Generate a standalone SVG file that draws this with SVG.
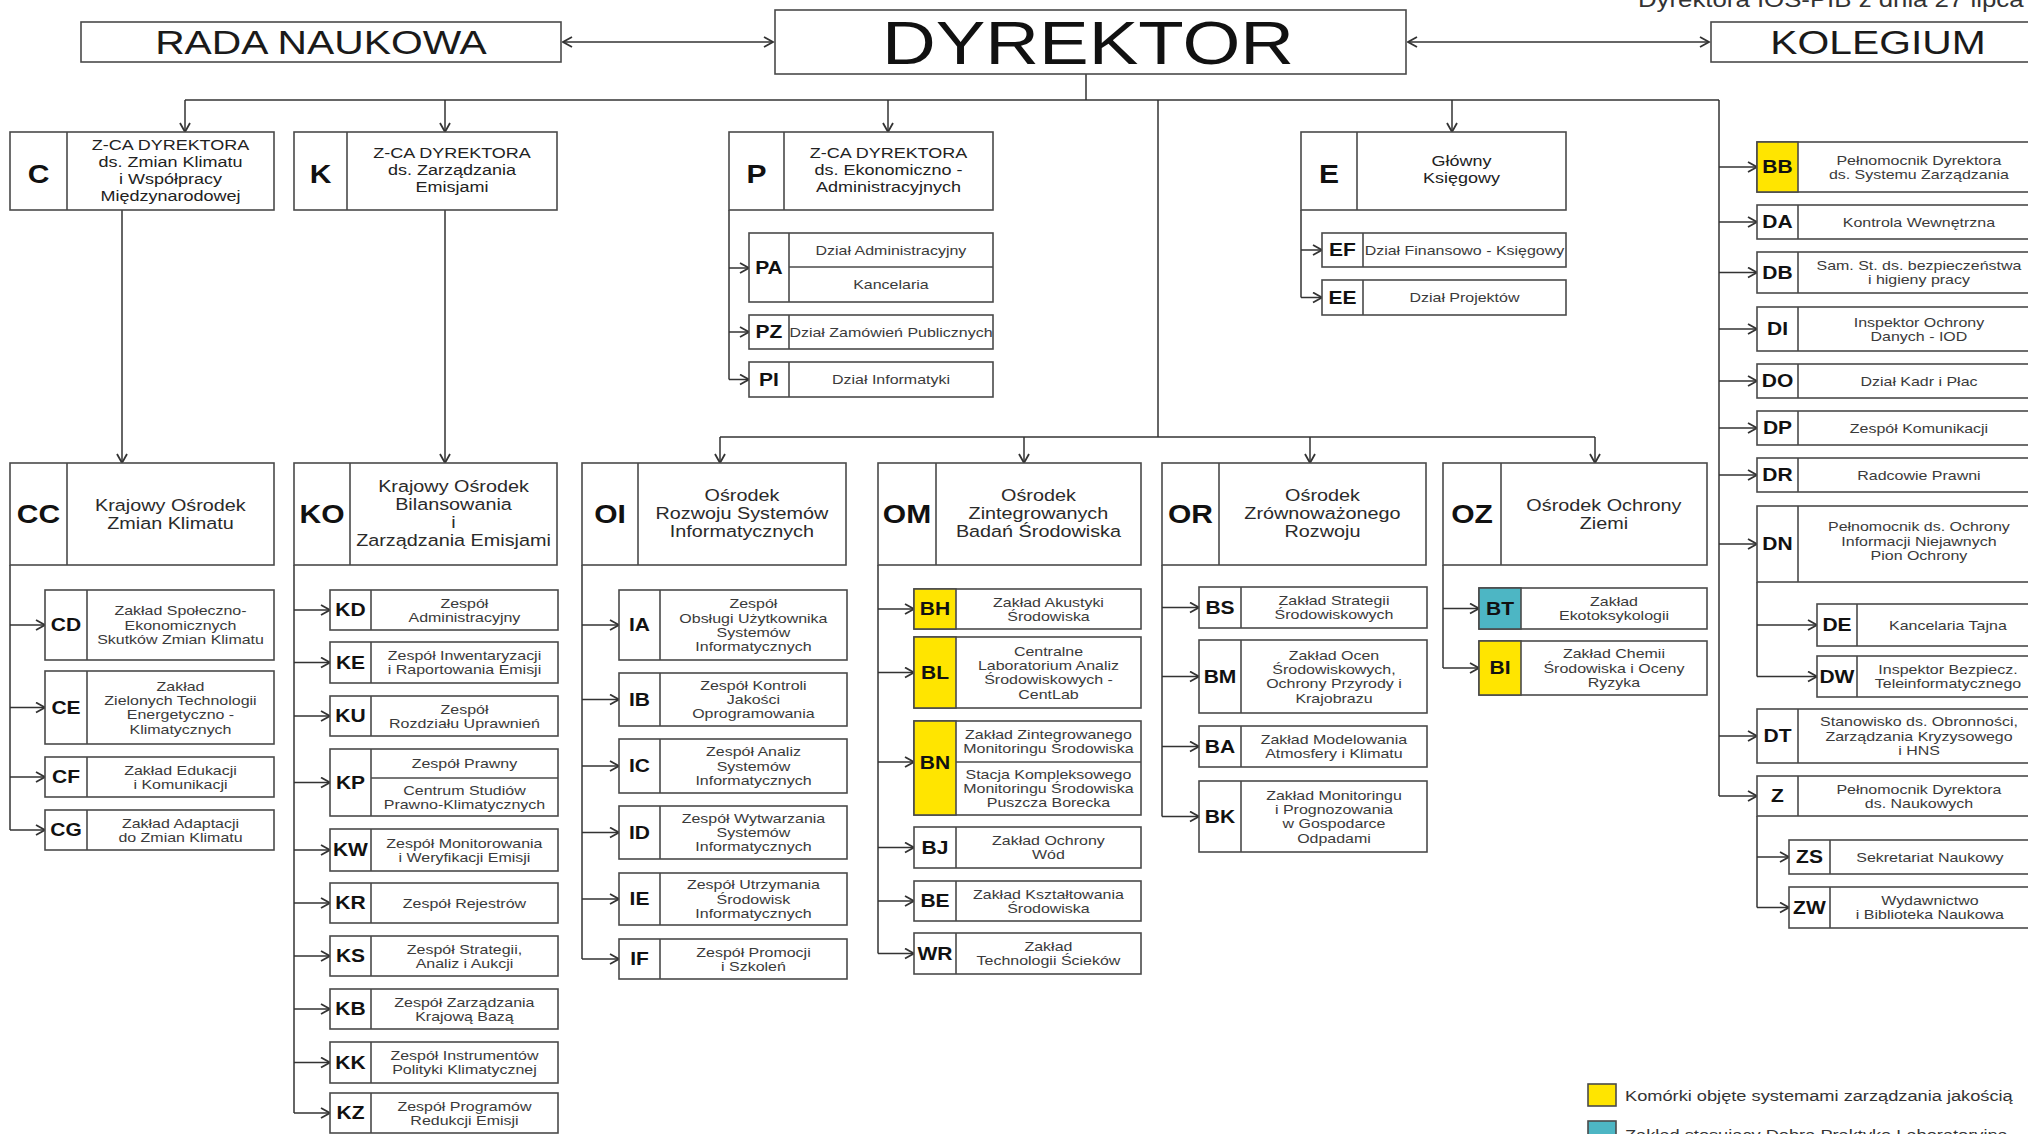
<svg xmlns="http://www.w3.org/2000/svg" width="2028" height="1134" viewBox="0 0 2028 1134">
<style>
.box{fill:#fff;stroke:#4a4a4a;stroke-width:1.6}
.dv{stroke:#4a4a4a;stroke-width:1.6}
.yel{fill:#FFE500;stroke:#4a4a4a;stroke-width:1.6}
.teal{fill:#4DB6C4;stroke:#4a4a4a;stroke-width:1.6}
.t{font-family:"Liberation Sans",Arial,sans-serif;text-anchor:middle;fill:#333;transform-box:fill-box;transform-origin:center;transform:scaleX(1.2)}
.tl{text-anchor:start;transform-origin:left center}
.huge{font-size:62px;fill:#111}
.big{font-size:34px;fill:#1a1a1a}
.h1{font-size:15px;fill:#222}
.h2{font-size:16.5px;fill:#2a2a2a}
.c{font-size:13.3px;fill:#3a3a3a}
.cd{font-weight:bold;fill:#111}
.cl{font-size:25px}
.cs{font-size:17.5px}
.lg{font-size:15.2px;fill:#333}
.note{font-size:21.5px;fill:#333}
.conn{fill:none;stroke:#333;stroke-width:1.5}
</style>
<defs>
<marker id="ah" viewBox="0 0 12 12" refX="10.5" refY="6" markerWidth="12" markerHeight="12" markerUnits="userSpaceOnUse" orient="auto-start-reverse"><path d="M1.5,1 L10.5,6 L1.5,11" fill="none" stroke="#333" stroke-width="1.8"/></marker>
</defs>
<rect width="2028" height="1134" fill="#fff"/>
<text class="t tl note" x="1638" y="7">Dyrektora IOŚ-PIB z dnia 27 lipca</text>

<g id="connectors" class="conn">
<path d="M563,42 H773" marker-start="url(#ah)" marker-end="url(#ah)"/>
<path d="M1408,42 H1709" marker-start="url(#ah)" marker-end="url(#ah)"/>
<path d="M1086,74 V100"/>
<path d="M185,100 H1719"/>
<path d="M185,100 V132" marker-end="url(#ah)"/>
<path d="M445,100 V132" marker-end="url(#ah)"/>
<path d="M888,100 V132" marker-end="url(#ah)"/>
<path d="M1452,100 V132" marker-end="url(#ah)"/>
<path d="M1158,100 V437"/>
<path d="M720,437 H1595"/>
<path d="M720,437 V463" marker-end="url(#ah)"/>
<path d="M1024,437 V463" marker-end="url(#ah)"/>
<path d="M1310,437 V463" marker-end="url(#ah)"/>
<path d="M1595,437 V463" marker-end="url(#ah)"/>
<path d="M122,210 V463" marker-end="url(#ah)"/>
<path d="M445,210 V463" marker-end="url(#ah)"/>
<path d="M729,210 V379.5"/>
<path d="M729,268 H749" marker-end="url(#ah)"/>
<path d="M729,332 H749" marker-end="url(#ah)"/>
<path d="M729,379.5 H749" marker-end="url(#ah)"/>
<path d="M1301,210 V297.5"/>
<path d="M1301,250 H1322" marker-end="url(#ah)"/>
<path d="M1301,297.5 H1322" marker-end="url(#ah)"/>
<path d="M10,565 V830"/>
<path d="M10,625 H45" marker-end="url(#ah)"/>
<path d="M10,707.5 H45" marker-end="url(#ah)"/>
<path d="M10,777 H45" marker-end="url(#ah)"/>
<path d="M10,830 H45" marker-end="url(#ah)"/>
<path d="M294,565 V1113"/>
<path d="M294,610 H330" marker-end="url(#ah)"/>
<path d="M294,662.5 H330" marker-end="url(#ah)"/>
<path d="M294,716 H330" marker-end="url(#ah)"/>
<path d="M294,782.5 H330" marker-end="url(#ah)"/>
<path d="M294,850 H330" marker-end="url(#ah)"/>
<path d="M294,903 H330" marker-end="url(#ah)"/>
<path d="M294,956 H330" marker-end="url(#ah)"/>
<path d="M294,1009 H330" marker-end="url(#ah)"/>
<path d="M294,1062.5 H330" marker-end="url(#ah)"/>
<path d="M294,1113 H330" marker-end="url(#ah)"/>
<path d="M582,565 V959"/>
<path d="M582,625 H619" marker-end="url(#ah)"/>
<path d="M582,699.5 H619" marker-end="url(#ah)"/>
<path d="M582,766 H619" marker-end="url(#ah)"/>
<path d="M582,832.5 H619" marker-end="url(#ah)"/>
<path d="M582,899 H619" marker-end="url(#ah)"/>
<path d="M582,959 H619" marker-end="url(#ah)"/>
<path d="M878,565 V953.5"/>
<path d="M878,609 H914" marker-end="url(#ah)"/>
<path d="M878,672.5 H914" marker-end="url(#ah)"/>
<path d="M878,762 H914" marker-end="url(#ah)"/>
<path d="M878,847.5 H914" marker-end="url(#ah)"/>
<path d="M878,901 H914" marker-end="url(#ah)"/>
<path d="M878,953.5 H914" marker-end="url(#ah)"/>
<path d="M1162,565 V816.5"/>
<path d="M1162,607.5 H1199" marker-end="url(#ah)"/>
<path d="M1162,676.5 H1199" marker-end="url(#ah)"/>
<path d="M1162,746.5 H1199" marker-end="url(#ah)"/>
<path d="M1162,816.5 H1199" marker-end="url(#ah)"/>
<path d="M1443,565 V668"/>
<path d="M1443,608.5 H1479" marker-end="url(#ah)"/>
<path d="M1443,668 H1479" marker-end="url(#ah)"/>
<path d="M1719,100 V796"/>
<path d="M1719,167 H1757" marker-end="url(#ah)"/>
<path d="M1719,222 H1757" marker-end="url(#ah)"/>
<path d="M1719,272.5 H1757" marker-end="url(#ah)"/>
<path d="M1719,329 H1757" marker-end="url(#ah)"/>
<path d="M1719,381 H1757" marker-end="url(#ah)"/>
<path d="M1719,428 H1757" marker-end="url(#ah)"/>
<path d="M1719,475 H1757" marker-end="url(#ah)"/>
<path d="M1719,544 H1757" marker-end="url(#ah)"/>
<path d="M1719,736 H1757" marker-end="url(#ah)"/>
<path d="M1719,796 H1757" marker-end="url(#ah)"/>
<path d="M1757,582 V676.5"/>
<path d="M1757,625 H1817" marker-end="url(#ah)"/>
<path d="M1757,676.5 H1817" marker-end="url(#ah)"/>
<path d="M1757,816 V907.5"/>
<path d="M1757,857 H1789" marker-end="url(#ah)"/>
<path d="M1757,907.5 H1789" marker-end="url(#ah)"/>
</g>

<g id="n-rada"><rect class="box" x="81" y="22" width="480" height="40"/><text class="t big" x="321" y="54">RADA NAUKOWA</text></g>
<g id="n-dyrektor"><rect class="box" x="775" y="10" width="631" height="64"/><text class="t huge" x="1088" y="64">DYREKTOR</text></g>
<g id="n-kolegium"><rect class="box" x="1711" y="22" width="334" height="40"/><text class="t big" x="1878" y="54">KOLEGIUM</text></g>

<g id="n-C"><rect class="box" x="10" y="132" width="264" height="78"/><line class="dv" x1="67" y1="132" x2="67" y2="210"/><text class="t cd cl" x="38.5" y="183">C</text><text class="t h1"><tspan x="170.5" y="150">Z-CA DYREKTORA</tspan><tspan x="170.5" y="167">ds. Zmian Klimatu</tspan><tspan x="170.5" y="184">i Współpracy</tspan><tspan x="170.5" y="201">Międzynarodowej</tspan></text></g>
<g id="n-K"><rect class="box" x="294" y="132" width="263" height="78"/><line class="dv" x1="347" y1="132" x2="347" y2="210"/><text class="t cd cl" x="320.5" y="183">K</text><text class="t h1"><tspan x="452" y="158">Z-CA DYREKTORA</tspan><tspan x="452" y="175">ds. Zarządzania</tspan><tspan x="452" y="192">Emisjami</tspan></text></g>
<g id="n-P"><rect class="box" x="729" y="132" width="264" height="78"/><line class="dv" x1="784" y1="132" x2="784" y2="210"/><text class="t cd cl" x="756.5" y="183">P</text><text class="t h1"><tspan x="888.5" y="158">Z-CA DYREKTORA</tspan><tspan x="888.5" y="175">ds. Ekonomiczno -</tspan><tspan x="888.5" y="192">Administracyjnych</tspan></text></g>
<g id="n-E"><rect class="box" x="1301" y="132" width="265" height="78"/><line class="dv" x1="1357" y1="132" x2="1357" y2="210"/><text class="t cd cl" x="1329" y="183">E</text><text class="t h1"><tspan x="1461.5" y="166">Główny</tspan><tspan x="1461.5" y="183">Księgowy</tspan></text></g>

<g id="n-PA"><rect class="box" x="749" y="233" width="244" height="69"/><line class="dv" x1="789" y1="233" x2="789" y2="302"/><line class="dv" x1="789" y1="267" x2="993" y2="267"/><text class="t cd cs" x="769" y="274">PA</text><text class="t c" x="891" y="254.7">Dział Administracyjny</text><text class="t c" x="891" y="289.2">Kancelaria</text></g>
<g id="n-PZ"><rect class="box" x="749" y="315" width="244" height="34"/><line class="dv" x1="789" y1="315" x2="789" y2="349"/><text class="t cd cs" x="769" y="338.3">PZ</text><text class="t c" x="891" y="336.7">Dział Zamówień Publicznych</text></g>
<g id="n-PI"><rect class="box" x="749" y="362" width="244" height="35"/><line class="dv" x1="789" y1="362" x2="789" y2="397"/><text class="t cd cs" x="769" y="385.8">PI</text><text class="t c" x="891" y="384.2">Dział Informatyki</text></g>
<g id="n-EF"><rect class="box" x="1322" y="233" width="244" height="34"/><line class="dv" x1="1363" y1="233" x2="1363" y2="267"/><text class="t cd cs" x="1342.5" y="256.3">EF</text><text class="t c" x="1464.5" y="254.7">Dział Finansowo - Księgowy</text></g>
<g id="n-EE"><rect class="box" x="1322" y="280" width="244" height="35"/><line class="dv" x1="1363" y1="280" x2="1363" y2="315"/><text class="t cd cs" x="1342.5" y="303.8">EE</text><text class="t c" x="1464.5" y="302.2">Dział Projektów</text></g>

<g id="n-CC"><rect class="box" x="10" y="463" width="264" height="102"/><line class="dv" x1="67" y1="463" x2="67" y2="565"/><text class="t cd cl" x="38.5" y="523">CC</text><text class="t h2"><tspan x="170.5" y="511">Krajowy Ośrodek</tspan><tspan x="170.5" y="529">Zmian Klimatu</tspan></text></g>
<g id="n-KO"><rect class="box" x="294" y="463" width="263" height="102"/><line class="dv" x1="350" y1="463" x2="350" y2="565"/><text class="t cd cl" x="322" y="523">KO</text><text class="t h2"><tspan x="453.5" y="492">Krajowy Ośrodek</tspan><tspan x="453.5" y="510">Bilansowania</tspan><tspan x="453.5" y="528">i</tspan><tspan x="453.5" y="546">Zarządzania Emisjami</tspan></text></g>
<g id="n-OI"><rect class="box" x="582" y="463" width="264" height="102"/><line class="dv" x1="638" y1="463" x2="638" y2="565"/><text class="t cd cl" x="610" y="523">OI</text><text class="t h2"><tspan x="742" y="501">Ośrodek</tspan><tspan x="742" y="519">Rozwoju Systemów</tspan><tspan x="742" y="537">Informatycznych</tspan></text></g>
<g id="n-OM"><rect class="box" x="878" y="463" width="263" height="102"/><line class="dv" x1="936" y1="463" x2="936" y2="565"/><text class="t cd cl" x="907" y="523">OM</text><text class="t h2"><tspan x="1038.5" y="501">Ośrodek</tspan><tspan x="1038.5" y="519">Zintegrowanych</tspan><tspan x="1038.5" y="537">Badań Środowiska</tspan></text></g>
<g id="n-OR"><rect class="box" x="1162" y="463" width="264" height="102"/><line class="dv" x1="1219" y1="463" x2="1219" y2="565"/><text class="t cd cl" x="1190.5" y="523">OR</text><text class="t h2"><tspan x="1322.5" y="501">Ośrodek</tspan><tspan x="1322.5" y="519">Zrównoważonego</tspan><tspan x="1322.5" y="537">Rozwoju</tspan></text></g>
<g id="n-OZ"><rect class="box" x="1443" y="463" width="264" height="102"/><line class="dv" x1="1501" y1="463" x2="1501" y2="565"/><text class="t cd cl" x="1472" y="523">OZ</text><text class="t h2"><tspan x="1604" y="511">Ośrodek Ochrony</tspan><tspan x="1604" y="529">Ziemi</tspan></text></g>

<g id="n-CD"><rect class="box" x="45" y="590" width="229" height="70"/><line class="dv" x1="87" y1="590" x2="87" y2="660"/><text class="t cd cs" x="66" y="631.3">CD</text><text class="t c"><tspan x="180.5" y="615.4">Zakład Społeczno-</tspan><tspan x="180.5" y="629.7">Ekonomicznych</tspan><tspan x="180.5" y="644">Skutków Zmian Klimatu</tspan></text></g>
<g id="n-CE"><rect class="box" x="45" y="671" width="229" height="73"/><line class="dv" x1="87" y1="671" x2="87" y2="744"/><text class="t cd cs" x="66" y="713.8">CE</text><text class="t c"><tspan x="180.5" y="690.8">Zakład</tspan><tspan x="180.5" y="705.1">Zielonych Technologii</tspan><tspan x="180.5" y="719.4">Energetyczno -</tspan><tspan x="180.5" y="733.7">Klimatycznych</tspan></text></g>
<g id="n-CF"><rect class="box" x="45" y="757" width="229" height="40"/><line class="dv" x1="87" y1="757" x2="87" y2="797"/><text class="t cd cs" x="66" y="783.3">CF</text><text class="t c"><tspan x="180.5" y="774.6">Zakład Edukacji</tspan><tspan x="180.5" y="788.9">i Komunikacji</tspan></text></g>
<g id="n-CG"><rect class="box" x="45" y="810" width="229" height="40"/><line class="dv" x1="87" y1="810" x2="87" y2="850"/><text class="t cd cs" x="66" y="836.3">CG</text><text class="t c"><tspan x="180.5" y="827.6">Zakład Adaptacji</tspan><tspan x="180.5" y="841.9">do Zmian Klimatu</tspan></text></g>

<g id="n-KD"><rect class="box" x="330" y="590" width="228" height="40"/><line class="dv" x1="371" y1="590" x2="371" y2="630"/><text class="t cd cs" x="350.5" y="616.3">KD</text><text class="t c"><tspan x="464.5" y="607.6">Zespół</tspan><tspan x="464.5" y="621.9">Administracyjny</tspan></text></g>
<g id="n-KE"><rect class="box" x="330" y="642" width="228" height="41"/><line class="dv" x1="371" y1="642" x2="371" y2="683"/><text class="t cd cs" x="350.5" y="668.8">KE</text><text class="t c"><tspan x="464.5" y="660.1">Zespół Inwentaryzacji</tspan><tspan x="464.5" y="674.4">i Raportowania Emisji</tspan></text></g>
<g id="n-KU"><rect class="box" x="330" y="696" width="228" height="40"/><line class="dv" x1="371" y1="696" x2="371" y2="736"/><text class="t cd cs" x="350.5" y="722.3">KU</text><text class="t c"><tspan x="464.5" y="713.6">Zespół</tspan><tspan x="464.5" y="727.9">Rozdziału Uprawnień</tspan></text></g>
<g id="n-KP"><rect class="box" x="330" y="749" width="228" height="67"/><line class="dv" x1="371" y1="749" x2="371" y2="816"/><line class="dv" x1="371" y1="778" x2="558" y2="778"/><text class="t cd cs" x="350.5" y="788.8">KP</text><text class="t c" x="464.5" y="768.2">Zespół Prawny</text><text class="t c"><tspan x="464.5" y="794.6">Centrum Studiów</tspan><tspan x="464.5" y="808.9">Prawno-Klimatycznych</tspan></text></g>
<g id="n-KW"><rect class="box" x="330" y="829" width="228" height="42"/><line class="dv" x1="371" y1="829" x2="371" y2="871"/><text class="t cd cs" x="350.5" y="856.3">KW</text><text class="t c"><tspan x="464.5" y="847.6">Zespół Monitorowania</tspan><tspan x="464.5" y="861.9">i Weryfikacji Emisji</tspan></text></g>
<g id="n-KR"><rect class="box" x="330" y="883" width="228" height="40"/><line class="dv" x1="371" y1="883" x2="371" y2="923"/><text class="t cd cs" x="350.5" y="909.3">KR</text><text class="t c" x="464.5" y="907.7">Zespół Rejestrów</text></g>
<g id="n-KS"><rect class="box" x="330" y="936" width="228" height="40"/><line class="dv" x1="371" y1="936" x2="371" y2="976"/><text class="t cd cs" x="350.5" y="962.3">KS</text><text class="t c"><tspan x="464.5" y="953.6">Zespół Strategii,</tspan><tspan x="464.5" y="967.9">Analiz i Aukcji</tspan></text></g>
<g id="n-KB"><rect class="box" x="330" y="989" width="228" height="40"/><line class="dv" x1="371" y1="989" x2="371" y2="1029"/><text class="t cd cs" x="350.5" y="1015.3">KB</text><text class="t c"><tspan x="464.5" y="1006.6">Zespół Zarządzania</tspan><tspan x="464.5" y="1020.9">Krajową Bazą</tspan></text></g>
<g id="n-KK"><rect class="box" x="330" y="1042" width="228" height="41"/><line class="dv" x1="371" y1="1042" x2="371" y2="1083"/><text class="t cd cs" x="350.5" y="1068.8">KK</text><text class="t c"><tspan x="464.5" y="1060.1">Zespół Instrumentów</tspan><tspan x="464.5" y="1074.4">Polityki Klimatycznej</tspan></text></g>
<g id="n-KZ"><rect class="box" x="330" y="1093" width="228" height="40"/><line class="dv" x1="371" y1="1093" x2="371" y2="1133"/><text class="t cd cs" x="350.5" y="1119.3">KZ</text><text class="t c"><tspan x="464.5" y="1110.6">Zespół Programów</tspan><tspan x="464.5" y="1124.9">Redukcji Emisji</tspan></text></g>

<g id="n-IA"><rect class="box" x="619" y="590" width="228" height="70"/><line class="dv" x1="660" y1="590" x2="660" y2="660"/><text class="t cd cs" x="639.5" y="631.3">IA</text><text class="t c"><tspan x="753.5" y="608.3">Zespół</tspan><tspan x="753.5" y="622.6">Obsługi Użytkownika</tspan><tspan x="753.5" y="636.9">Systemów</tspan><tspan x="753.5" y="651.2">Informatycznych</tspan></text></g>
<g id="n-IB"><rect class="box" x="619" y="673" width="228" height="53"/><line class="dv" x1="660" y1="673" x2="660" y2="726"/><text class="t cd cs" x="639.5" y="705.8">IB</text><text class="t c"><tspan x="753.5" y="689.9">Zespół Kontroli</tspan><tspan x="753.5" y="704.2">Jakości</tspan><tspan x="753.5" y="718.5">Oprogramowania</tspan></text></g>
<g id="n-IC"><rect class="box" x="619" y="739" width="228" height="54"/><line class="dv" x1="660" y1="739" x2="660" y2="793"/><text class="t cd cs" x="639.5" y="772.3">IC</text><text class="t c"><tspan x="753.5" y="756.4">Zespół Analiz</tspan><tspan x="753.5" y="770.7">Systemów</tspan><tspan x="753.5" y="785">Informatycznych</tspan></text></g>
<g id="n-ID"><rect class="box" x="619" y="806" width="228" height="53"/><line class="dv" x1="660" y1="806" x2="660" y2="859"/><text class="t cd cs" x="639.5" y="838.8">ID</text><text class="t c"><tspan x="753.5" y="822.9">Zespół Wytwarzania</tspan><tspan x="753.5" y="837.2">Systemów</tspan><tspan x="753.5" y="851.5">Informatycznych</tspan></text></g>
<g id="n-IE"><rect class="box" x="619" y="873" width="228" height="52"/><line class="dv" x1="660" y1="873" x2="660" y2="925"/><text class="t cd cs" x="639.5" y="905.3">IE</text><text class="t c"><tspan x="753.5" y="889.4">Zespół Utrzymania</tspan><tspan x="753.5" y="903.7">Środowisk</tspan><tspan x="753.5" y="918">Informatycznych</tspan></text></g>
<g id="n-IF"><rect class="box" x="619" y="939" width="228" height="40"/><line class="dv" x1="660" y1="939" x2="660" y2="979"/><text class="t cd cs" x="639.5" y="965.3">IF</text><text class="t c"><tspan x="753.5" y="956.6">Zespół Promocji</tspan><tspan x="753.5" y="970.9">i Szkoleń</tspan></text></g>

<g id="n-BH"><rect class="box" x="914" y="589" width="227" height="40"/><rect class="yel" x="914" y="589" width="42" height="40"/><text class="t cd cs" x="935" y="615.3">BH</text><text class="t c"><tspan x="1048.5" y="606.6">Zakład Akustyki</tspan><tspan x="1048.5" y="620.9">Środowiska</tspan></text></g>
<g id="n-BL"><rect class="box" x="914" y="637" width="227" height="71"/><rect class="yel" x="914" y="637" width="42" height="71"/><text class="t cd cs" x="935" y="678.8">BL</text><text class="t c"><tspan x="1048.5" y="655.8">Centralne</tspan><tspan x="1048.5" y="670.1">Laboratorium Analiz</tspan><tspan x="1048.5" y="684.4">Środowiskowych -</tspan><tspan x="1048.5" y="698.7">CentLab</tspan></text></g>
<g id="n-BN"><rect class="box" x="914" y="721" width="227" height="94"/><rect class="yel" x="914" y="721" width="42" height="94"/><line class="dv" x1="956" y1="762" x2="1141" y2="762"/><text class="t cd cs" x="935" y="769.3">BN</text><text class="t c"><tspan x="1048.5" y="739.1">Zakład Zintegrowanego</tspan><tspan x="1048.5" y="753.4">Monitoringu Środowiska</tspan></text><text class="t c"><tspan x="1048.5" y="778.9">Stacja Kompleksowego</tspan><tspan x="1048.5" y="793.2">Monitoringu Środowiska</tspan><tspan x="1048.5" y="807.5">Puszcza Borecka</tspan></text></g>
<g id="n-BJ"><rect class="box" x="914" y="827" width="227" height="41"/><line class="dv" x1="956" y1="827" x2="956" y2="868"/><text class="t cd cs" x="935" y="853.8">BJ</text><text class="t c"><tspan x="1048.5" y="845.1">Zakład Ochrony</tspan><tspan x="1048.5" y="859.4">Wód</tspan></text></g>
<g id="n-BE"><rect class="box" x="914" y="881" width="227" height="40"/><line class="dv" x1="956" y1="881" x2="956" y2="921"/><text class="t cd cs" x="935" y="907.3">BE</text><text class="t c"><tspan x="1048.5" y="898.6">Zakład Kształtowania</tspan><tspan x="1048.5" y="912.9">Środowiska</tspan></text></g>
<g id="n-WR"><rect class="box" x="914" y="933" width="227" height="41"/><line class="dv" x1="956" y1="933" x2="956" y2="974"/><text class="t cd cs" x="935" y="959.8">WR</text><text class="t c"><tspan x="1048.5" y="951.1">Zakład</tspan><tspan x="1048.5" y="965.4">Technologii Ścieków</tspan></text></g>

<g id="n-BS"><rect class="box" x="1199" y="587" width="228" height="41"/><line class="dv" x1="1241" y1="587" x2="1241" y2="628"/><text class="t cd cs" x="1220" y="613.8">BS</text><text class="t c"><tspan x="1334" y="605.1">Zakład Strategii</tspan><tspan x="1334" y="619.4">Środowiskowych</tspan></text></g>
<g id="n-BM"><rect class="box" x="1199" y="640" width="228" height="73"/><line class="dv" x1="1241" y1="640" x2="1241" y2="713"/><text class="t cd cs" x="1220" y="682.8">BM</text><text class="t c"><tspan x="1334" y="659.8">Zakład Ocen</tspan><tspan x="1334" y="674.1">Środowiskowych,</tspan><tspan x="1334" y="688.4">Ochrony Przyrody i</tspan><tspan x="1334" y="702.7">Krajobrazu</tspan></text></g>
<g id="n-BA"><rect class="box" x="1199" y="726" width="228" height="41"/><line class="dv" x1="1241" y1="726" x2="1241" y2="767"/><text class="t cd cs" x="1220" y="752.8">BA</text><text class="t c"><tspan x="1334" y="744.1">Zakład Modelowania</tspan><tspan x="1334" y="758.4">Atmosfery i Klimatu</tspan></text></g>
<g id="n-BK"><rect class="box" x="1199" y="781" width="228" height="71"/><line class="dv" x1="1241" y1="781" x2="1241" y2="852"/><text class="t cd cs" x="1220" y="822.8">BK</text><text class="t c"><tspan x="1334" y="799.8">Zakład Monitoringu</tspan><tspan x="1334" y="814.1">i Prognozowania</tspan><tspan x="1334" y="828.4">w Gospodarce</tspan><tspan x="1334" y="842.7">Odpadami</tspan></text></g>

<g id="n-BT"><rect class="box" x="1479" y="588" width="228" height="41"/><rect class="teal" x="1479" y="588" width="42" height="41"/><text class="t cd cs" x="1500" y="614.8">BT</text><text class="t c"><tspan x="1614" y="606.1">Zakład</tspan><tspan x="1614" y="620.4">Ekotoksykologii</tspan></text></g>
<g id="n-BI"><rect class="box" x="1479" y="641" width="228" height="54"/><rect class="yel" x="1479" y="641" width="42" height="54"/><text class="t cd cs" x="1500" y="674.3">BI</text><text class="t c"><tspan x="1614" y="658.4">Zakład Chemii</tspan><tspan x="1614" y="672.7">Środowiska i Oceny</tspan><tspan x="1614" y="687">Ryzyka</tspan></text></g>

<g id="n-BB"><rect class="box" x="1757" y="142" width="283" height="50"/><rect class="yel" x="1757" y="142" width="41" height="50"/><text class="t cd cs" x="1777.5" y="173.3">BB</text><text class="t c"><tspan x="1919" y="164.6">Pełnomocnik Dyrektora</tspan><tspan x="1919" y="178.9">ds. Systemu Zarządzania</tspan></text></g>
<g id="n-DA"><rect class="box" x="1757" y="205" width="283" height="34"/><line class="dv" x1="1798" y1="205" x2="1798" y2="239"/><text class="t cd cs" x="1777.5" y="228.3">DA</text><text class="t c" x="1919" y="226.7">Kontrola Wewnętrzna</text></g>
<g id="n-DB"><rect class="box" x="1757" y="252" width="283" height="41"/><line class="dv" x1="1798" y1="252" x2="1798" y2="293"/><text class="t cd cs" x="1777.5" y="278.8">DB</text><text class="t c"><tspan x="1919" y="270.1">Sam. St. ds. bezpieczeństwa</tspan><tspan x="1919" y="284.4">i higieny pracy</tspan></text></g>
<g id="n-DI"><rect class="box" x="1757" y="307" width="283" height="44"/><line class="dv" x1="1798" y1="307" x2="1798" y2="351"/><text class="t cd cs" x="1777.5" y="335.3">DI</text><text class="t c"><tspan x="1919" y="326.6">Inspektor Ochrony</tspan><tspan x="1919" y="340.9">Danych - IOD</tspan></text></g>
<g id="n-DO"><rect class="box" x="1757" y="364" width="283" height="34"/><line class="dv" x1="1798" y1="364" x2="1798" y2="398"/><text class="t cd cs" x="1777.5" y="387.3">DO</text><text class="t c" x="1919" y="385.7">Dział Kadr i Płac</text></g>
<g id="n-DP"><rect class="box" x="1757" y="411" width="283" height="34"/><line class="dv" x1="1798" y1="411" x2="1798" y2="445"/><text class="t cd cs" x="1777.5" y="434.3">DP</text><text class="t c" x="1919" y="432.7">Zespół Komunikacji</text></g>
<g id="n-DR"><rect class="box" x="1757" y="458" width="283" height="34"/><line class="dv" x1="1798" y1="458" x2="1798" y2="492"/><text class="t cd cs" x="1777.5" y="481.3">DR</text><text class="t c" x="1919" y="479.7">Radcowie Prawni</text></g>
<g id="n-DN"><rect class="box" x="1757" y="506" width="283" height="76"/><line class="dv" x1="1798" y1="506" x2="1798" y2="582"/><text class="t cd cs" x="1777.5" y="550.3">DN</text><text class="t c"><tspan x="1919" y="531.4">Pełnomocnik ds. Ochrony</tspan><tspan x="1919" y="545.7">Informacji Niejawnych</tspan><tspan x="1919" y="560">Pion Ochrony</tspan></text></g>
<g id="n-DE"><rect class="box" x="1817" y="604" width="223" height="42"/><line class="dv" x1="1857" y1="604" x2="1857" y2="646"/><text class="t cd cs" x="1837" y="631.3">DE</text><text class="t c" x="1948" y="629.7">Kancelaria Tajna</text></g>
<g id="n-DW"><rect class="box" x="1817" y="656" width="223" height="41"/><line class="dv" x1="1857" y1="656" x2="1857" y2="697"/><text class="t cd cs" x="1837" y="682.8">DW</text><text class="t c"><tspan x="1948" y="674.1">Inspektor Bezpiecz.</tspan><tspan x="1948" y="688.4">Teleinformatycznego</tspan></text></g>
<g id="n-DT"><rect class="box" x="1757" y="709" width="283" height="54"/><line class="dv" x1="1798" y1="709" x2="1798" y2="763"/><text class="t cd cs" x="1777.5" y="742.3">DT</text><text class="t c"><tspan x="1919" y="726.4">Stanowisko ds. Obronności,</tspan><tspan x="1919" y="740.7">Zarządzania Kryzysowego</tspan><tspan x="1919" y="755">i HNS</tspan></text></g>
<g id="n-Z"><rect class="box" x="1757" y="776" width="283" height="40"/><line class="dv" x1="1798" y1="776" x2="1798" y2="816"/><text class="t cd cs" x="1777.5" y="802.3">Z</text><text class="t c"><tspan x="1919" y="793.6">Pełnomocnik Dyrektora</tspan><tspan x="1919" y="807.9">ds. Naukowych</tspan></text></g>
<g id="n-ZS"><rect class="box" x="1789" y="840" width="251" height="34"/><line class="dv" x1="1830" y1="840" x2="1830" y2="874"/><text class="t cd cs" x="1809.5" y="863.3">ZS</text><text class="t c" x="1930" y="861.7">Sekretariat Naukowy</text></g>
<g id="n-ZW"><rect class="box" x="1789" y="887" width="251" height="41"/><line class="dv" x1="1830" y1="887" x2="1830" y2="928"/><text class="t cd cs" x="1809.5" y="913.8">ZW</text><text class="t c"><tspan x="1930" y="905.1">Wydawnictwo</tspan><tspan x="1930" y="919.4">i Biblioteka Naukowa</tspan></text></g>

<g id="legend">
<rect class="yel" x="1588" y="1084" width="28" height="22"/>
<text class="t tl lg" x="1625" y="1101">Komórki objęte systemami zarządzania jakością</text>
<rect class="teal" x="1588" y="1121" width="28" height="22"/>
<text class="t tl lg" x="1625" y="1140">Zakład stosujący Dobrą Praktykę Laboratoryjną</text>
</g>
</svg>
